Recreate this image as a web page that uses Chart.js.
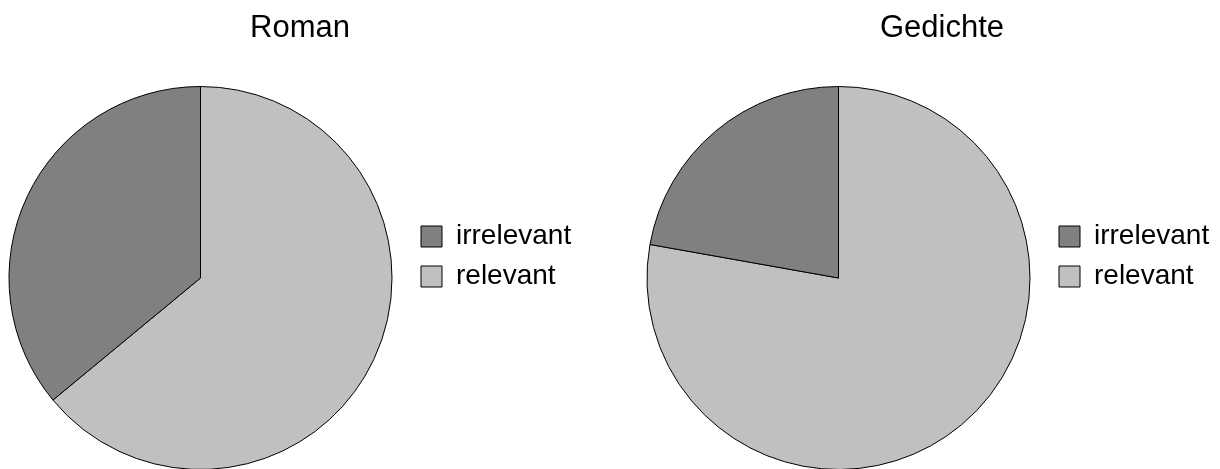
<!DOCTYPE html>
<html><head><meta charset="utf-8">
<script src="https://cdn.jsdelivr.net/npm/chart.js@4.4.1/dist/chart.umd.min.js"></script>
<style>
html,body{margin:0;padding:0;background:#fff;width:1220px;height:469px;overflow:hidden;position:relative}
canvas{position:absolute;top:0}
</style></head><body>
<canvas id="c1" width="616" height="470" style="left:-8px"></canvas>
<canvas id="c2" width="624" height="470" style="left:630px"></canvas>
<script>
const categories = ['relevant', 'irrelevant'];
const romanValues = [64, 36];
const gedichteValues = [77.8, 22.2];
const chartTitles = ['Roman', 'Gedichte'];
const sliceColors = ['#c0c0c0', '#808080'];

const FONT = '"Liberation Sans", Arial, Helvetica, sans-serif';

function legendWidthPlugin(w) {
  return {
    id: 'legendWidth',
    beforeLayout(chart) {
      const lg = chart.legend;
      if (lg && !lg._wrapped) {
        const fit = lg.fit;
        lg.fit = function () { fit.call(this); this.width = w; };
        lg._wrapped = true;
      }
    }
  };
}

function makePie(id, title, values, legendW) {
  return new Chart(document.getElementById(id), {
    type: 'pie',
    data: {
      labels: categories,
      datasets: [{
        data: values,
        backgroundColor: sliceColors,
        borderColor: '#000000',
        borderWidth: 1
      }]
    },
    options: {
      responsive: false,
      animation: false,
      events: [],
      layout: { padding: 0 },
      plugins: {
        title: {
          display: true,
          text: title,
          color: '#000000',
          font: { family: FONT, size: 31, weight: 'normal', lineHeight: 1.2 },
          padding: { top: 10, bottom: 38.8 }
        },
        legend: {
          position: 'right',
          reverse: true,
          title: { display: true, text: '', font: { size: 20, lineHeight: 1 }, padding: { top: 11.5, bottom: 11.5 } },
          labels: {
            boxWidth: 21,
            boxHeight: 21,
            padding: 12,
            color: '#000000',
            font: { family: FONT, size: 28 }
          }
        },
        tooltip: { enabled: false }
      }
    },
    plugins: [legendWidthPlugin(legendW)]
  });
}

makePie('c1', chartTitles[0], romanValues, 199);
makePie('c2', chartTitles[1], gedichteValues, 207);
</script>
</body></html>
